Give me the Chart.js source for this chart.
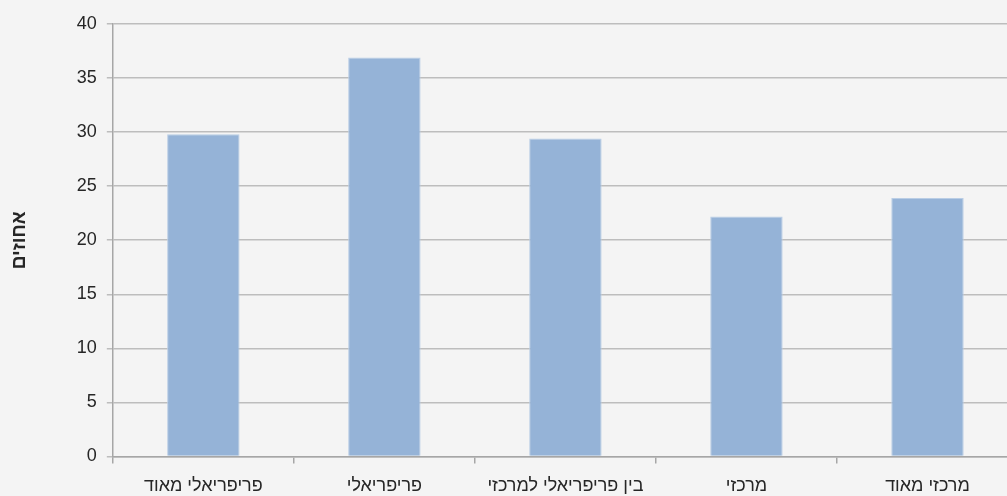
<!DOCTYPE html>
<html>
<head>
<meta charset="utf-8">
<script src="https://cdn.jsdelivr.net/npm/chart.js@4/dist/chart.umd.min.js"></script>
<style>
    html, body { margin: 0; padding: 0; background: #f4f4f4; overflow: hidden; }
    #wrap { width: 1018px; height: 509px; }
</style>
</head>
<body>
<div id="wrap"><canvas id="chart" width="1018" height="509"></canvas></div>
<script>
const categories = ['פריפריאלי מאוד', 'פריפריאלי', 'בין פריפריאלי למרכזי', 'מרכזי', 'מרכזי מאוד'];
const percentages = [29.8, 36.9, 29.4, 22.2, 23.9];
const yTitle = 'אחוזים';

const font = "'Liberation Sans', Arial, sans-serif";

const ctx = document.getElementById('chart').getContext('2d');
new Chart(ctx, {
    type: 'bar',
    data: {
        labels: categories,
        datasets: [
            {
                data: percentages,
                backgroundColor: '#95b3d7',
                borderColor: '#b9cde5',
                borderWidth: 1,
                barPercentage: 0.4,
                categoryPercentage: 1,
            },
        ],
    },
    options: {
        responsive: false,
        animation: false,
        devicePixelRatio: 1,
        layout: { padding: { top: 24, left: 8, right: 0, bottom: 0 } },
        plugins: {
            legend: { display: false },
            tooltip: { enabled: false },
        },
        scales: {
            x: {
                offset: true,
                grid: {
                    offset: true,
                    drawOnChartArea: false,
                    color: '#a6a6a6',
                    tickLength: 7,
                    lineWidth: 1.5,
                },
                border: { color: '#a6a6a6', width: 1.5 },
                ticks: {
                    color: '#262626',
                    font: { family: font, size: 18 },
                    padding: 12,
                    maxRotation: 0,
                },
            },
            y: {
                min: 0,
                max: 40,
                ticks: {
                    stepSize: 5,
                    color: '#262626',
                    font: { family: font, size: 18 },
                    padding: 10,
                },
                grid: {
                    color: '#bdbdbd',
                    lineWidth: 1.5,
                    tickLength: 6,
                },
                border: { color: '#a6a6a6', width: 1.5 },
                title: {
                    display: true,
                    text: yTitle,
                    color: '#262626',
                    font: { family: font, size: 19, weight: 'bold' },
                    padding: { top: 0, bottom: 36 },
                },
            },
        },
    },
});
</script>
</body>
</html>
